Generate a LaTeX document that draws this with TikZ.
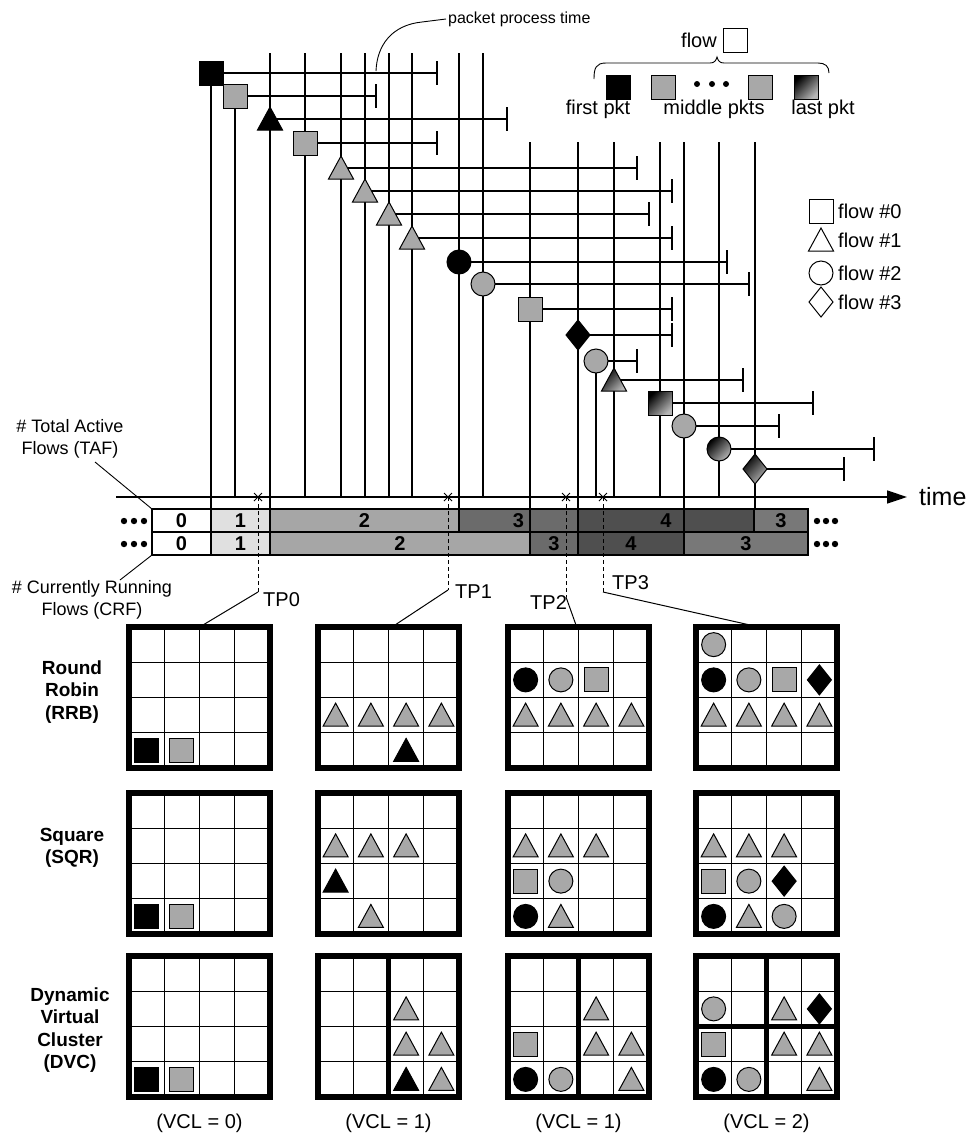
\documentclass[tikz,border=0pt]{standalone}
\usepackage{fontspec}
\setmainfont{Liberation Sans}
\usetikzlibrary{arrows.meta}
\definecolor{pg}{gray}{0.66}
\definecolor{ba}{gray}{0.88}
\definecolor{bb}{gray}{0.65}
\definecolor{bc}{gray}{0.42}
\definecolor{bd}{gray}{0.31}
\definecolor{be}{gray}{0.47}
\tikzset{
  ln/.style={line width=1.5pt},
  thinln/.style={line width=0.9pt},
  pics/sq/.style={code={\draw[line width=1pt,#1] (-12,-12) rectangle (12,12);}},
  pics/tri/.style={code={\draw[line width=1pt,line join=miter,#1] (0,-12) -- (12.5,11) -- (-12.5,11) -- cycle;}},
  pics/circ/.style={code={\draw[line width=1pt,#1] (0,0) circle[radius=12];}},
  pics/dia/.style={code={\draw[line width=1pt,#1] (0,-15) -- (12,0) -- (0,15) -- (-12,0) -- cycle;}},
  pics/xmark/.style={code={\draw[line width=1pt] (-4,-4) -- (4,4) (-4,4) -- (4,-4);}},
  grad/.style={left color=black, right color=pg!85, shading angle=45},
  gk/.style={fill=black},
  gg/.style={fill=pg},
  gw/.style={fill=white},
  txt/.style={font=\fontsize{20}{23}\selectfont, inner sep=0pt},
  btxt/.style={font=\fontsize{19}{22.5}\selectfont\bfseries, align=center, inner sep=0pt},
  bar/.style={draw, line width=1.5pt, minimum height=23pt, inner sep=0pt, outer sep=0pt, font=\fontsize{20}{20}\selectfont\bfseries},
}
\newcommand\pkt[8]{%
  \coordinate (#1) at (#2,#3);
  \coordinate (#1e) at (#6,#3);
  \coordinate (#1t) at (#2,#7);
  \coordinate (#1b) at (#2,#8);
  \draw[ln] (#1t) -- (#1b);
  \draw[ln] (#1) -- (#1e);
  \draw[ln] ([yshift=12pt]#1e) -- ([yshift=-12pt]#1e);
  \pic at (#1) {#4={#5}};
}
\newcommand\cgrid[3]{%
  \coordinate (#1) at (#2,#3);
  \foreach \i in {1,2,3}{
    \draw[line width=1.4pt] ({#2+\i*35.25},#3) -- ({#2+\i*35.25},{#3+141});
    \draw[line width=1.4pt] (#2,{#3+\i*35.25}) -- ({#2+141},{#3+\i*35.25});
  }
  \draw[line width=5.5pt] (#1) rectangle ++(141,141);
}
\newcommand\cp[6]{\pic at ({#1+(#4+0.5)*35.25},{#2+(#3+0.5)*35.25}) {#5={#6}};}
\begin{document}
\begin{tikzpicture}[x=1pt,y=-1pt]
\fill[white] (0,0) rectangle (972,1138);
\useasboundingbox (0,0) rectangle (972,1138);

% ---- bars ----
\node[bar, fill=white, minimum width=59pt]  (a0) at (181.5,520.5) {0};
\node[bar, fill=ba, minimum width=59pt]     (a1) at (240.5,520.5) {1};
\node[bar, fill=bb, minimum width=189pt]    (a2) at (364.5,520.5) {2};
\node[bar, fill=bc, minimum width=119pt]    (a3) at (518.5,520.5) {3};
\node[bar, fill=bd, minimum width=176pt]    (a4) at (666,520.5) {4};
\node[bar, fill=be, minimum width=54pt]     (a5) at (781,520.5) {3};
\node[bar, fill=white, minimum width=59pt]  (b0) at (181.5,543.5) {0};
\node[bar, fill=ba, minimum width=59pt]     (b1) at (240.5,543.5) {1};
\node[bar, fill=bb, minimum width=260pt]    (b2) at (400,543.5) {2};
\node[bar, fill=bc, minimum width=48pt]     (b3) at (554,543.5) {3};
\node[bar, fill=bd, minimum width=106pt]    (b4) at (631,543.5) {4};
\node[bar, fill=be, minimum width=124pt]    (b5) at (746,543.5) {3};
\foreach \d in {124,134,144,817,826,835}{
  \fill (\d,521) circle[radius=3.2];
  \fill (\d,544) circle[radius=3.2];
}

% ---- packets ----
\pkt{p1}{211}{73}{sq}{gk}{437}{73}{509}
\pkt{p2}{235}{96}{sq}{gg}{376}{96}{497}
\pkt{p3}{270}{119}{tri}{gk}{507}{53}{509}
\pkt{p4}{305}{143}{sq}{gg}{437}{53}{497}
\pkt{p5}{341}{168}{tri}{gg}{637}{53}{497}
\pkt{p6}{365}{191}{tri}{gg}{672}{53}{497}
\pkt{p7}{389}{214}{tri}{gg}{649}{53}{497}
\pkt{p8}{412}{238}{tri}{gg}{672}{53}{497}
\pkt{p9}{459}{262}{circ}{gk}{727}{53}{509}
\pkt{p10}{483}{284}{circ}{gg}{749}{53}{497}
\pkt{p11}{530}{309}{sq}{gg}{672}{142}{532}
\pkt{p12}{578}{335}{dia}{gk}{672}{142}{509}
\pkt{p13}{596}{361}{circ}{gg}{637}{361}{497}
\pkt{p14}{614}{380}{tri}{grad}{743}{142}{497}
\pkt{p15}{660}{403}{sq}{grad}{813}{142}{497}
\pkt{p16}{684}{426}{circ}{gg}{779}{142}{532}
\pkt{p17}{719}{449}{circ}{grad}{874}{142}{497}
\pkt{p18}{755}{469}{dia}{grad}{844}{142}{509}

% ---- time axis ----
\coordinate (axL) at (116,497);
\coordinate (axR) at (907,497);
\draw[ln, -{Triangle[length=20pt,width=13pt]}] (axL) -- (axR);
\node[font=\fontsize{25}{25}\selectfont, anchor=west, inner sep=0pt] (time) at (919,497) {time};

% ---- packet process time ----
\node[font=\fontsize{16}{16}\selectfont, anchor=west, inner sep=0pt] (ppt) at (448,19) {packet process time};
\coordinate (pptend) at (376,71);
\draw[thinln] ([xshift=-2pt]ppt.west) -- (422,22) .. controls (392,25) and (377,45) .. (pptend);

% ---- legend (packets) ----
\node[txt] (flowlbl) at (699,40) {flow};
\pic at (735,40) {sq={gw}};
\draw[thinln] (594,79) .. controls (594,68) and (596,63) .. (606,63) -- (710,63) .. controls (714,63) and (716,61) .. (717,57) .. controls (718,61) and (720,63) .. (724,63) -- (818,63) .. controls (825,63) and (829,66) .. (829,73);
\pic at (618,87) {sq={gk}};
\pic at (663,87) {sq={gg}};
\foreach \d in {697,712,726} \fill (\d,84) circle[radius=3];
\pic at (760,87) {sq={gg}};
\pic at (806,87) {sq={grad}};
\node[txt] (lfirst) at (598,109) {first pkt};
\node[txt] (lmid) at (714,109) {middle pkts};
\node[txt] (llast) at (823,109) {last pkt};

% ---- legend (flows) ----
\pic at (821,211) {sq={gw}};
\pic at (821,240) {tri={gw}};
\pic at (821,273) {circ={gw}};
\pic at (821,302) {dia={gw}};
\node[txt, anchor=west] (f0) at (838,211) {flow \#0};
\node[txt, anchor=west] (f1) at (838,240) {flow \#1};
\node[txt, anchor=west] (f2) at (838,273) {flow \#2};
\node[txt, anchor=west] (f3) at (838,302) {flow \#3};

% ---- TAF / CRF labels ----
\node[font=\fontsize{18}{22}\selectfont, align=center, inner sep=0pt] (taf) at (70,439) {\# Total Active\\Flows (TAF)};
\node[font=\fontsize{18}{22}\selectfont, align=center, inner sep=0pt] (crf) at (92,600) {\# Currently Running\\Flows (CRF)};
\coordinate (tafp) at (95,462);
\coordinate (crfp) at (120,580);
\draw[thinln] (tafp) -- (a0.north west);
\draw[thinln] (b0.south west) -- (crfp);

% ---- grids ----
\cgrid{g11}{129}{627}
\cgrid{g12}{318}{627}
\cgrid{g13}{508}{627}
\cgrid{g14}{696}{627}
\cgrid{g21}{129}{793}
\cgrid{g22}{318}{793}
\cgrid{g23}{508}{793}
\cgrid{g24}{696}{793}
\cgrid{g31}{129}{956}
\cgrid{g32}{318}{956}
\cgrid{g33}{508}{956}
\cgrid{g34}{696}{956}
\draw[line width=5.5pt] (388.5,956) -- (388.5,1097);
\draw[line width=5.5pt] (578.5,956) -- (578.5,1097);
\draw[line width=5.5pt] (766.5,956) -- (766.5,1097);
\draw[line width=5.5pt] (696,1026.5) -- (837,1026.5);

% RRB
\cp{129}{627}{3}{0}{sq}{gk} \cp{129}{627}{3}{1}{sq}{gg}
\foreach \c in {0,1,2,3}{\cp{318}{627}{2}{\c}{tri}{gg}}
\cp{318}{627}{3}{2}{tri}{gk}
\cp{508}{627}{1}{0}{circ}{gk} \cp{508}{627}{1}{1}{circ}{gg} \cp{508}{627}{1}{2}{sq}{gg}
\foreach \c in {0,1,2,3}{\cp{508}{627}{2}{\c}{tri}{gg}}
\cp{696}{627}{0}{0}{circ}{gg}
\cp{696}{627}{1}{0}{circ}{gk} \cp{696}{627}{1}{1}{circ}{gg} \cp{696}{627}{1}{2}{sq}{gg} \cp{696}{627}{1}{3}{dia}{gk}
\foreach \c in {0,1,2,3}{\cp{696}{627}{2}{\c}{tri}{gg}}
% SQR
\cp{129}{793}{3}{0}{sq}{gk} \cp{129}{793}{3}{1}{sq}{gg}
\foreach \c in {0,1,2}{\cp{318}{793}{1}{\c}{tri}{gg}}
\cp{318}{793}{2}{0}{tri}{gk} \cp{318}{793}{3}{1}{tri}{gg}
\foreach \c in {0,1,2}{\cp{508}{793}{1}{\c}{tri}{gg}}
\cp{508}{793}{2}{0}{sq}{gg} \cp{508}{793}{2}{1}{circ}{gg}
\cp{508}{793}{3}{0}{circ}{gk} \cp{508}{793}{3}{1}{tri}{gg}
\foreach \c in {0,1,2}{\cp{696}{793}{1}{\c}{tri}{gg}}
\cp{696}{793}{2}{0}{sq}{gg} \cp{696}{793}{2}{1}{circ}{gg} \cp{696}{793}{2}{2}{dia}{gk}
\cp{696}{793}{3}{0}{circ}{gk} \cp{696}{793}{3}{1}{tri}{gg} \cp{696}{793}{3}{2}{circ}{gg}
% DVC
\cp{129}{956}{3}{0}{sq}{gk} \cp{129}{956}{3}{1}{sq}{gg}
\cp{318}{956}{1}{2}{tri}{gg} \cp{318}{956}{2}{2}{tri}{gg} \cp{318}{956}{2}{3}{tri}{gg}
\cp{318}{956}{3}{2}{tri}{gk} \cp{318}{956}{3}{3}{tri}{gg}
\cp{508}{956}{1}{2}{tri}{gg} \cp{508}{956}{2}{0}{sq}{gg} \cp{508}{956}{2}{2}{tri}{gg} \cp{508}{956}{2}{3}{tri}{gg}
\cp{508}{956}{3}{0}{circ}{gk} \cp{508}{956}{3}{1}{circ}{gg} \cp{508}{956}{3}{3}{tri}{gg}
\cp{696}{956}{1}{0}{circ}{gg} \cp{696}{956}{1}{2}{tri}{gg} \cp{696}{956}{1}{3}{dia}{gk}
\cp{696}{956}{2}{0}{sq}{gg} \cp{696}{956}{2}{2}{tri}{gg} \cp{696}{956}{2}{3}{tri}{gg}
\cp{696}{956}{3}{0}{circ}{gk} \cp{696}{956}{3}{1}{circ}{gg} \cp{696}{956}{3}{3}{tri}{gg}

% ---- row labels ----
\node[btxt] (rrb) at (72,692) {Round\\Robin\\(RRB)};
\node[btxt] (sqr) at (72,848) {Square\\(SQR)};
\node[btxt] (dvc) at (70,1030) {Dynamic\\Virtual\\Cluster\\(DVC)};

% ---- VCL labels ----
\node[txt] (v0) at (199.5,1123) {(VCL = 0)};
\node[txt] (v1) at (388.5,1123) {(VCL = 1)};
\node[txt] (v2) at (578.5,1123) {(VCL = 1)};
\node[txt] (v3) at (766.5,1123) {(VCL = 2)};

% ---- time points ----
\coordinate (tp0) at (258,497); \coordinate (tp0k) at (258,592); \coordinate (tp0g) at (203,625);
\coordinate (tp1) at (448,497); \coordinate (tp1k) at (448,590); \coordinate (tp1g) at (395,625);
\coordinate (tp2) at (566,497); \coordinate (tp2k) at (566,597); \coordinate (tp2g) at (576,625);
\coordinate (tp3) at (603,497); \coordinate (tp3k) at (603,592); \coordinate (tp3g) at (750,625);
\foreach \t in {tp0,tp1,tp2,tp3}{
  \pic at (\t) {xmark};
  \draw[line width=1pt, dashed, dash pattern=on 4pt off 3pt] (\t) -- (\t k);
  \draw[line width=1pt] (\t k) -- (\t g);
}
\node[txt, anchor=west] (l0) at (263,600) {TP0};
\node[txt, anchor=west] (l1) at (455,592) {TP1};
\node[txt, anchor=west] (l2) at (530,603) {TP2};
\node[txt, anchor=west] (l3) at (612,583) {TP3};
\end{tikzpicture}
\end{document}
